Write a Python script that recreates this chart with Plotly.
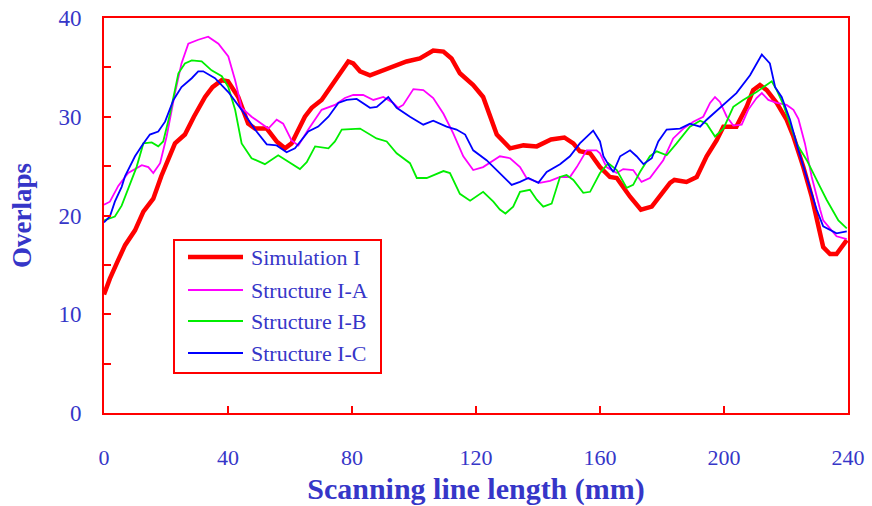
import plotly.graph_objects as go

# Simulation I
sim_x = [0, 1.9, 4.6, 6.8, 10, 12.7, 15.9, 18.5, 22.9, 26.1, 29, 32.6, 35, 38, 40, 43.3, 46.5, 48.7, 52.5, 55.7,
         58.4, 60.5, 64.8, 67, 70.2, 74.5, 78.8, 80.4, 82.6, 85.8, 89, 93.3, 97.6, 101.9, 106.2, 109.5, 112.1,
         114.8, 119.1, 122.3, 124.5, 126.7, 131, 135.3, 139.6, 144.2, 148.5, 151.4, 153.5, 156.8, 160, 163.2,
         165.4, 169.7, 173.2, 176.7, 182.6, 184, 187.9, 191.2, 194.4, 197.6, 199.8, 204, 207.3, 209.4, 211.6,
         213.8, 217, 220.2, 222.4, 225.6, 228.3, 232, 234.2, 236.3, 239.6]
sim_y = [12.0, 13.6, 15.5, 17.0, 18.5, 20.4, 21.7, 24.0, 27.3, 28.2, 30.0, 32.0, 33.0, 33.7, 33.6, 32.0, 29.3, 28.8, 28.8, 27.5,
         26.8, 27.3, 30.0, 30.9, 31.7, 33.7, 35.6, 35.4, 34.6, 34.2, 34.6, 35.1, 35.6, 35.9, 36.7, 36.6, 35.9,
         34.4, 33.2, 32.0, 30.0, 28.2, 26.8, 27.1, 27.0, 27.7, 27.9, 27.3, 26.5, 26.3, 24.9, 23.9,
         23.8, 21.9, 20.6, 20.9, 23.3, 23.6, 23.4, 23.9, 26.0, 27.6, 29.0, 29.0, 31.0, 32.7, 33.2,
         32.7, 31.4, 29.7, 28.0, 24.9, 21.9, 16.8, 16.1, 16.1, 17.5]

# Structure I-A
a_x = [0, 1.9, 4.6, 7.8, 12.2, 14.3, 15.9, 18.1, 20.2, 22.9, 25, 27.2, 30.4, 33.6, 36.9, 40.1, 42.3, 44.4, 47.6, 50.9,
       53, 55.7, 57.8, 60.5, 62.7, 65.9, 70.2, 74.5, 77.7, 80.4, 83.6, 86.9, 90.1, 93.3, 94.9, 96.5, 99.8, 103,
       106.2, 109.5, 112.7, 115.9, 119.1, 122.3, 127.7, 131, 134.2, 136.3, 140.6, 143.9, 147.1, 150.3, 152.5,
       155.7, 158.9, 160, 162.1, 165.4, 167.5, 170.7, 173.4, 176.1, 180.4, 183.6, 186.9, 190.1, 193.3, 195.5,
       197.1, 198.7, 200.9, 203, 205.7, 207.8, 210.5, 212.2, 214.3, 217, 220.2, 222.4, 224, 226.1, 228.3, 231,
       232, 236.3, 239.6]
a_y = [21.1, 21.4, 23.0, 24.3, 25.1, 24.9, 24.3, 25.3, 28.0, 32.4, 35.4, 37.4, 37.8, 38.1, 37.4, 36.1, 33.7, 30.9, 30.0, 29.3,
       28.8, 29.7, 29.3, 27.6, 27.1, 28.7, 30.7, 31.2, 31.9, 32.2, 32.2, 31.7, 32.0, 31.4, 30.9, 31.2, 32.8, 32.7,
       31.9, 30.3, 28.3, 26.0, 24.6, 24.9, 26.0, 25.8, 24.9, 23.8, 23.3, 23.5, 23.9, 23.9, 24.9,
       26.6, 26.6, 26.3, 24.9, 24.3, 24.7, 24.6, 23.4, 23.8, 25.6, 27.8, 28.8, 29.5, 30.0, 31.4,
       32.0, 31.5, 30.0, 29.1, 29.2, 30.7, 31.9, 32.4, 31.7, 31.4, 31.2, 30.7, 29.8, 27.3, 23.9, 20.6,
       19.5, 17.9, 17.6]

# Structure I-B
b_x = [0, 3.5, 5.7, 7.8, 10.5, 12.7, 15.4, 17.5, 19.1, 21.3, 24, 26.1, 28.3, 31.5, 34.7, 38, 40.1, 42.3, 44.4, 47.6,
       51.9, 56.2, 59.5, 63.2, 65.4, 68.1, 72.4, 74.5, 76.7, 80.4, 82.6, 87.9, 91.2, 94.4, 98.7, 100.9, 104.1,
       109.5, 111.6, 114.8, 118.1, 122.3, 125.6, 127.7, 129.5, 132, 134.2, 137.4, 139.6, 141.7, 144.4, 147.1,
       149.2, 151.4, 154.6, 156.8, 160, 162.7, 165.4, 168.6, 170.7, 172.9, 176.1, 178.3, 181.5, 184.7, 189,
       192.3, 194.4, 197.1, 199.8, 203, 206.2, 210.5, 215.4, 217, 219.2, 223.4, 226.7, 231, 233.1, 236.9, 239.6]
b_y = [19.5, 19.9, 21.0, 22.8, 24.9, 27.3, 27.4, 27.0, 27.5, 30.3, 34.4, 35.4, 35.7, 35.6, 34.7, 34.1, 33.0, 30.7, 27.3, 25.8,
       25.2, 26.1, 25.4, 24.7, 25.4, 27.0, 26.8, 27.5, 28.7, 28.8, 28.8, 27.8, 27.5, 26.3, 25.3, 23.8, 23.8,
       24.5, 24.3, 22.2, 21.5, 22.4, 21.4, 20.6, 20.2, 20.9, 22.4, 22.6, 21.6, 20.9, 21.2, 23.9,
       24.1, 23.6, 22.3, 22.4, 24.3, 25.3, 24.6, 22.8, 23.1, 24.4, 26.0, 26.5, 26.1, 27.3, 29.0,
       29.6, 29.3, 28.0, 28.8, 31.0, 31.7, 32.5, 33.6, 32.7, 31.2, 27.3, 25.6, 22.9, 21.6, 19.5, 18.7]

# Structure I-C
c_x = [0, 1.9, 3.5, 5.7, 6.8, 10, 12.7, 14.8, 17.5, 19.7, 22.4, 25, 28.3, 30.4, 32, 35.8, 40.1, 44.4, 48.7, 52.5,
       55.7, 58.9, 61.6, 65.9, 69.1, 72.4, 75.6, 78.3, 81.5, 85.8, 88, 91.7, 94.4, 98.7, 103, 106.2, 110.5,
       113.7, 116.5, 119.1, 123.4, 127.7, 131.5, 134.2, 136.9, 140.1, 142.8, 147.1, 150.3, 153.5, 157.8, 160,
       161.1, 163.2, 164.3, 166.5, 169.7, 171.8, 174, 176.7, 178.8, 181.5, 185.8, 189, 192.3, 194.4, 199.8,
       204, 208.4, 210.5, 212.2, 214.8, 216.5, 218.6, 221.3, 224, 226.7, 229.9, 232, 236.3, 239.6]
c_y = [19.3, 19.9, 21.4, 22.9, 24.0, 26.0, 27.3, 28.2, 28.5, 29.5, 31.7, 33.0, 33.9, 34.6, 34.6, 33.9, 32.5, 30.7, 28.7, 27.2,
       27.1, 26.4, 26.8, 28.5, 29.0, 30.0, 31.4, 31.7, 31.8, 30.9, 31.0, 32.0, 30.9, 30.0, 29.2, 29.6, 29.0,
       28.7, 28.2, 26.6, 25.6, 24.3, 23.1, 23.4, 23.8, 23.3, 24.4, 25.2, 26.0, 27.3, 28.6, 27.5,
       26.0, 24.9, 24.4, 26.0, 26.6, 26.0, 25.2, 25.8, 27.5, 28.7, 28.8, 29.3, 29.0, 29.7, 31.2,
       32.4, 34.2, 35.4, 36.3, 35.4, 33.0, 32.0, 29.7, 26.6, 23.9, 20.6, 18.9, 18.2, 18.4]

series_names = ["Simulation I", "Structure I-A", "Structure I-B", "Structure I-C"]
x_ticks = [0, 40, 80, 120, 160, 200, 240]
y_ticks = [0, 10, 20, 30, 40]

TXT = "#3636c8"
FONT = "Liberation Serif"
colors = ["#ff0000", "#ff00ff", "#00ee00", "#0000ff"]
widths = [4.5, 1.8, 1.8, 1.8]

fig = go.Figure()
for name, xs, ys, col, w in zip(series_names, [sim_x, a_x, b_x, c_x], [sim_y, a_y, b_y, c_y], colors, widths):
    fig.add_trace(go.Scatter(x=xs, y=ys, mode="lines", name=name, showlegend=False,
                             line=dict(color=col, width=w)))

# Legend drawn in paper coordinates (plot area: 744 x 395 px)
PW, PH = 744.0, 395.0
def px(v):
    return (v - 104) / PW
def py(v):
    return (413 - v) / PH

shapes = [dict(type="rect", xref="paper", yref="paper",
               x0=px(174), x1=px(381), y0=py(373), y1=py(240),
               line=dict(color="#ff0000", width=2), fillcolor="white", layer="above")]
annotations = []
row_y = [257, 290, 321, 353]
for name, col, w, ry in zip(series_names, colors, [4.5, 2, 2, 2], row_y):
    shapes.append(dict(type="line", xref="paper", yref="paper",
                       x0=px(188), x1=px(243), y0=py(ry), y1=py(ry),
                       line=dict(color=col, width=w), layer="above"))
    annotations.append(dict(xref="paper", yref="paper", x=px(249), y=py(ry),
                            xanchor="left", yanchor="middle", showarrow=False,
                            text=name, font=dict(family=FONT, size=22, color=TXT)))

fig.update_layout(
    width=872, height=506,
    margin=dict(l=104, r=24, t=18, b=93),
    paper_bgcolor="white", plot_bgcolor="white",
    font=dict(family=FONT, color=TXT),
    showlegend=False,
    shapes=shapes,
    annotations=annotations,
    xaxis=dict(range=[0, 240], tickvals=x_ticks, ticktext=[str(v) for v in x_ticks],
               automargin=False,
               ticks="inside", ticklen=7, tickwidth=2, tickcolor="#ff0000",
               showline=True, linecolor="#ff0000", linewidth=2, mirror=True,
               showgrid=False, zeroline=False,
               tickfont=dict(family=FONT, size=22, color=TXT),
               ticklabelstandoff=24,
               title=dict(text="Scanning line length (mm)", standoff=12,
                          font=dict(family=FONT, size=30, color=TXT, weight="bold"))),
    yaxis=dict(range=[0, 40], tickvals=y_ticks, ticktext=[str(v) for v in y_ticks],
               automargin=False,
               ticks="inside", ticklen=7, tickwidth=2, tickcolor="#ff0000",
               minor=dict(dtick=5, ticks="inside", ticklen=7, tickwidth=2, tickcolor="#ff0000"),
               showline=True, linecolor="#ff0000", linewidth=2, mirror=True,
               showgrid=False, zeroline=False,
               tickfont=dict(family=FONT, size=23, color=TXT),
               ticklabelstandoff=16,
               title=dict(text="Overlaps", standoff=19,
                          font=dict(family=FONT, size=27, color=TXT, weight="bold"))),
)

fig.write_html("out.html")
